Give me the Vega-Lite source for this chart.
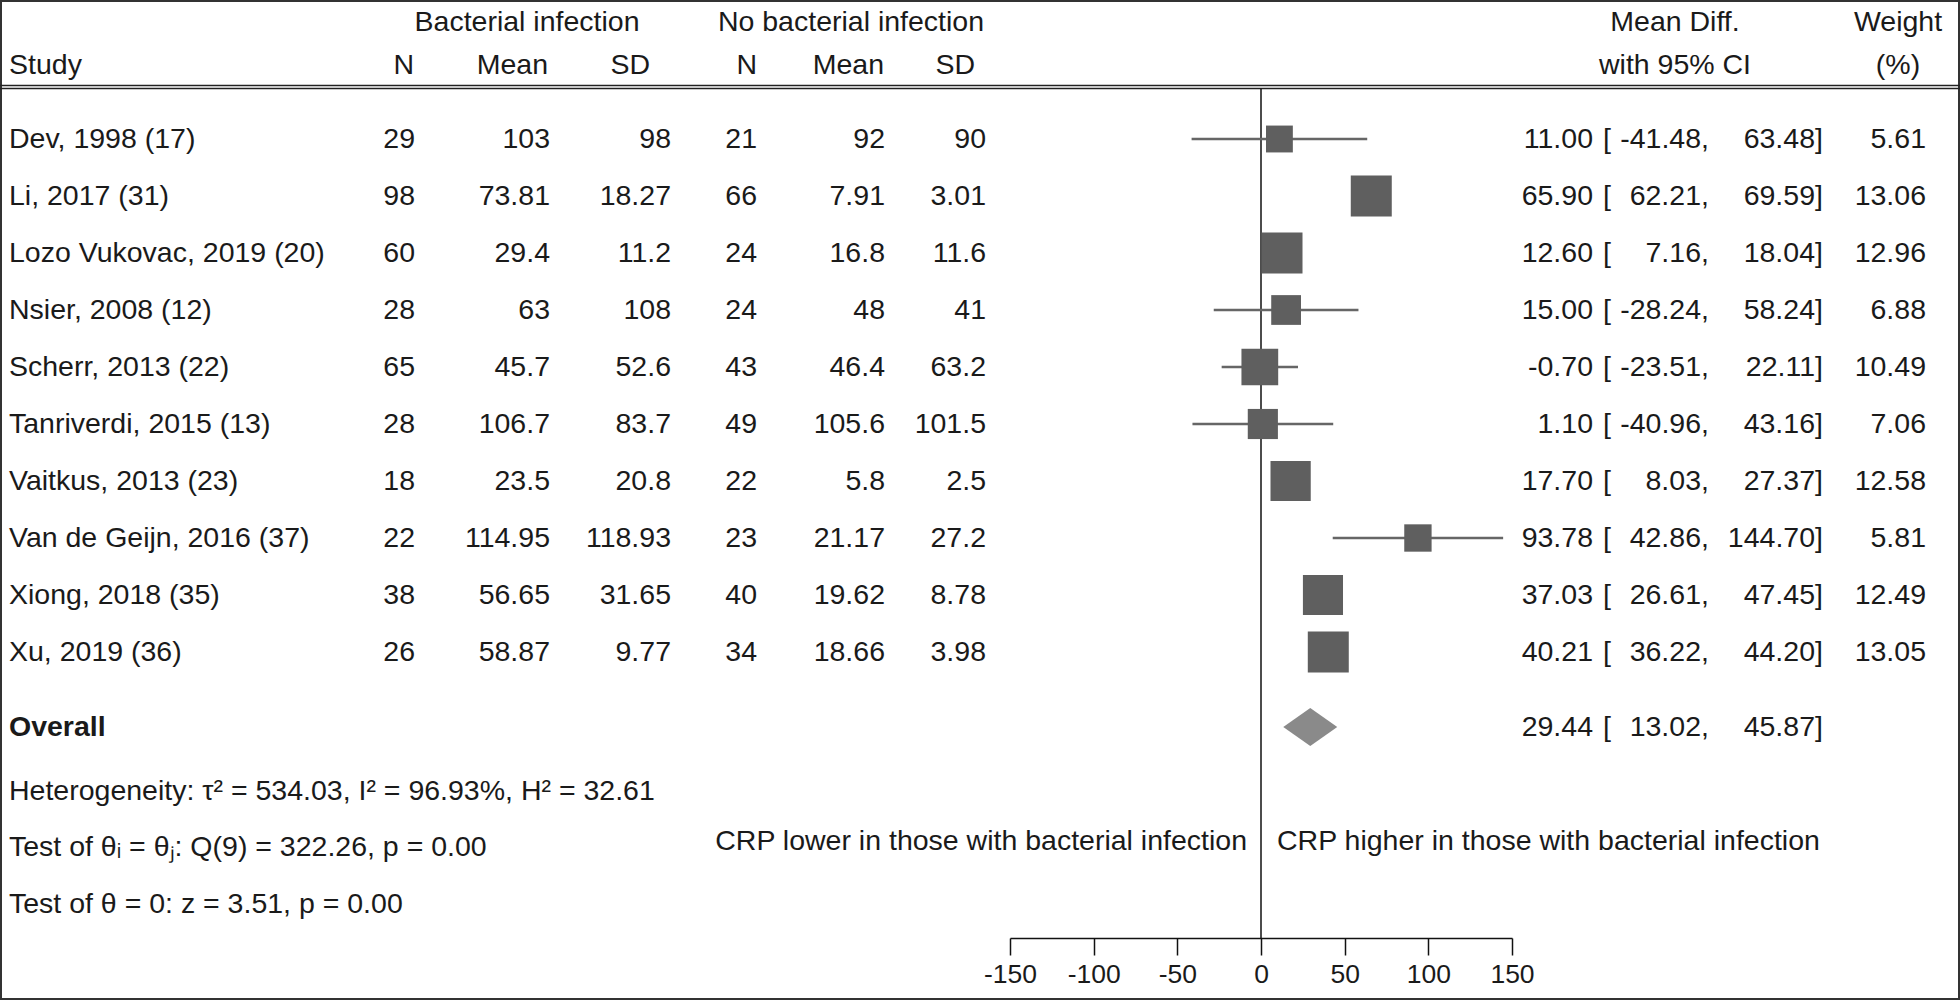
{
  "$schema": "https://vega.github.io/schema/vega-lite/v6.json",
  "width": 1960,
  "height": 1000,
  "autosize": {"type": "none"},
  "padding": 0,
  "background": "white",
  "config": {
    "view": {"stroke": "#333333", "strokeWidth": 4},
    "text": {"font": "Liberation Sans", "fontSize": 28.5, "color": "#1a1a1a", "baseline": "middle"},
    "axisY": {"disable": true},
    "locale": {"number": {"decimal": ".", "thousands": ",", "grouping": [3], "currency": ["$", ""], "minus": "-"}}
  },
  "datasets": {
    "studies": [
      {"study": "Dev, 1998 (17)", "n1": 29, "m1": 103, "sd1": 98, "n2": 21, "m2": 92, "sd2": 90, "md": 11.00, "lo": -41.48, "hi": 63.48, "w": 5.61},
      {"study": "Li, 2017 (31)", "n1": 98, "m1": 73.81, "sd1": 18.27, "n2": 66, "m2": 7.91, "sd2": 3.01, "md": 65.90, "lo": 62.21, "hi": 69.59, "w": 13.06},
      {"study": "Lozo Vukovac, 2019 (20)", "n1": 60, "m1": 29.4, "sd1": 11.2, "n2": 24, "m2": 16.8, "sd2": 11.6, "md": 12.60, "lo": 7.16, "hi": 18.04, "w": 12.96},
      {"study": "Nsier, 2008 (12)", "n1": 28, "m1": 63, "sd1": 108, "n2": 24, "m2": 48, "sd2": 41, "md": 15.00, "lo": -28.24, "hi": 58.24, "w": 6.88},
      {"study": "Scherr, 2013 (22)", "n1": 65, "m1": 45.7, "sd1": 52.6, "n2": 43, "m2": 46.4, "sd2": 63.2, "md": -0.70, "lo": -23.51, "hi": 22.11, "w": 10.49},
      {"study": "Tanriverdi, 2015 (13)", "n1": 28, "m1": 106.7, "sd1": 83.7, "n2": 49, "m2": 105.6, "sd2": 101.5, "md": 1.10, "lo": -40.96, "hi": 43.16, "w": 7.06},
      {"study": "Vaitkus, 2013 (23)", "n1": 18, "m1": 23.5, "sd1": 20.8, "n2": 22, "m2": 5.8, "sd2": 2.5, "md": 17.70, "lo": 8.03, "hi": 27.37, "w": 12.58},
      {"study": "Van de Geijn, 2016 (37)", "n1": 22, "m1": 114.95, "sd1": 118.93, "n2": 23, "m2": 21.17, "sd2": 27.2, "md": 93.78, "lo": 42.86, "hi": 144.70, "w": 5.81},
      {"study": "Xiong, 2018 (35)", "n1": 38, "m1": 56.65, "sd1": 31.65, "n2": 40, "m2": 19.62, "sd2": 8.78, "md": 37.03, "lo": 26.61, "hi": 47.45, "w": 12.49},
      {"study": "Xu, 2019 (36)", "n1": 26, "m1": 58.87, "sd1": 9.77, "n2": 34, "m2": 18.66, "sd2": 3.98, "md": 40.21, "lo": 36.22, "hi": 44.20, "w": 13.05}
    ],
    "overall": [
      {"label": "Overall", "es": 29.44, "lo": 13.02, "hi": 45.87}
    ],
    "one": [{}]
  },
  "layer": [
    {
      "data": {"name": "one"},
      "mark": {"type": "rule", "color": "#222222", "strokeWidth": 1.5},
      "encoding": {
        "x": {"value": 0}, "x2": {"value": 1960},
        "y": {"datum": 0.0614, "type": "quantitative", "scale": {"domain": [-1.4386, 16.1053], "reverse": true, "nice": false, "zero": false}, "axis": null}
      }
    },
    {
      "data": {"name": "one"},
      "mark": {"type": "rule", "color": "#222222", "strokeWidth": 1.5},
      "encoding": {
        "x": {"value": 0}, "x2": {"value": 1960},
        "y": {"datum": 0.114, "type": "quantitative", "axis": null}
      }
    },
    {
      "data": {"name": "one"},
      "mark": {"type": "rule", "color": "#111111", "strokeWidth": 1.5},
      "encoding": {
        "x": {"datum": 0, "type": "quantitative",
          "scale": {"domain": [-150, 150], "range": [1010, 1512], "nice": false, "zero": false},
          "axis": {"title": null, "values": [-150, -100, -50, 0, 50, 100, 150], "offset": -62, "grid": false, "domainColor": "#111111", "domainWidth": 1.5, "tickColor": "#111111", "tickWidth": 1.5, "tickSize": 17, "labelFont": "Liberation Sans", "labelFontSize": 26.5, "labelColor": "#1a1a1a", "labelPadding": 6, "labelFlush": false, "labelOverlap": false}},
        "y": {"datum": 0.114, "type": "quantitative", "axis": null},
        "y2": {"datum": 15.018}
      }
    },
    {
      "data": {"name": "studies"},
      "transform": [{"window": [{"op": "row_number", "as": "row"}]}],
      "layer": [
        {
          "mark": {"type": "rule", "color": "#666666", "strokeWidth": 2.5},
          "encoding": {
            "x": {"field": "lo", "type": "quantitative", "axis": {"title": null, "values": [-150, -100, -50, 0, 50, 100, 150], "offset": -62, "grid": false, "domainColor": "#111111", "domainWidth": 1.5, "tickColor": "#111111", "tickWidth": 1.5, "tickSize": 17, "labelFont": "Liberation Sans", "labelFontSize": 26.5, "labelColor": "#1a1a1a", "labelPadding": 6, "labelFlush": false, "labelOverlap": false}},
            "x2": {"field": "hi"},
            "y": {"field": "row", "type": "quantitative", "axis": null}
          }
        },
        {
          "mark": {"type": "square", "filled": true, "color": "#5f5f5f", "opacity": 1},
          "encoding": {
            "x": {"field": "md", "type": "quantitative", "axis": {"title": null, "values": [-150, -100, -50, 0, 50, 100, 150], "offset": -62, "grid": false, "domainColor": "#111111", "domainWidth": 1.5, "tickColor": "#111111", "tickWidth": 1.5, "tickSize": 17, "labelFont": "Liberation Sans", "labelFontSize": 26.5, "labelColor": "#1a1a1a", "labelPadding": 6, "labelFlush": false, "labelOverlap": false}},
            "y": {"field": "row", "type": "quantitative", "axis": null},
            "size": {"field": "w", "type": "quantitative", "scale": {"domain": [0, 13.06], "range": [0, 1681]}, "legend": null}
          }
        },
        {"mark": {"type": "text", "align": "left"}, "encoding": {"x": {"value": 9}, "y": {"field": "row", "type": "quantitative", "axis": null}, "text": {"field": "study", "type": "nominal"}}},
        {"mark": {"type": "text", "align": "right"}, "encoding": {"x": {"value": 415}, "y": {"field": "row", "type": "quantitative", "axis": null}, "text": {"field": "n1", "type": "nominal"}}},
        {"mark": {"type": "text", "align": "right"}, "encoding": {"x": {"value": 550}, "y": {"field": "row", "type": "quantitative", "axis": null}, "text": {"field": "m1", "type": "nominal"}}},
        {"mark": {"type": "text", "align": "right"}, "encoding": {"x": {"value": 671}, "y": {"field": "row", "type": "quantitative", "axis": null}, "text": {"field": "sd1", "type": "nominal"}}},
        {"mark": {"type": "text", "align": "right"}, "encoding": {"x": {"value": 757}, "y": {"field": "row", "type": "quantitative", "axis": null}, "text": {"field": "n2", "type": "nominal"}}},
        {"mark": {"type": "text", "align": "right"}, "encoding": {"x": {"value": 885}, "y": {"field": "row", "type": "quantitative", "axis": null}, "text": {"field": "m2", "type": "nominal"}}},
        {"mark": {"type": "text", "align": "right"}, "encoding": {"x": {"value": 986}, "y": {"field": "row", "type": "quantitative", "axis": null}, "text": {"field": "sd2", "type": "nominal"}}},
        {"mark": {"type": "text", "align": "right"}, "encoding": {"x": {"value": 1593}, "y": {"field": "row", "type": "quantitative", "axis": null}, "text": {"field": "md", "type": "quantitative", "format": ".2f"}}},
        {"mark": {"type": "text", "align": "left", "text": "["}, "encoding": {"x": {"value": 1603}, "y": {"field": "row", "type": "quantitative", "axis": null}}},
        {"mark": {"type": "text", "align": "right"}, "encoding": {"x": {"value": 1701}, "y": {"field": "row", "type": "quantitative", "axis": null}, "text": {"field": "lo", "type": "quantitative", "format": ".2f"}}},
        {"mark": {"type": "text", "align": "left", "text": ","}, "encoding": {"x": {"value": 1701}, "y": {"field": "row", "type": "quantitative", "axis": null}}},
        {"mark": {"type": "text", "align": "right"}, "encoding": {"x": {"value": 1815}, "y": {"field": "row", "type": "quantitative", "axis": null}, "text": {"field": "hi", "type": "quantitative", "format": ".2f"}}},
        {"mark": {"type": "text", "align": "left", "text": "]"}, "encoding": {"x": {"value": 1815}, "y": {"field": "row", "type": "quantitative", "axis": null}}},
        {"mark": {"type": "text", "align": "right"}, "encoding": {"x": {"value": 1926}, "y": {"field": "row", "type": "quantitative", "axis": null}, "text": {"field": "w", "type": "quantitative", "format": ".2f"}}}
      ]
    },
    {
      "data": {"name": "overall"},
      "layer": [
        {
          "mark": {"type": "point", "filled": true, "color": "#8a8a8a", "opacity": 1, "shape": "M-1,0L0,-0.7L1,0L0,0.7Z", "size": 2916},
          "encoding": {
            "x": {"field": "es", "type": "quantitative", "axis": {"title": null, "values": [-150, -100, -50, 0, 50, 100, 150], "offset": -62, "grid": false, "domainColor": "#111111", "domainWidth": 1.5, "tickColor": "#111111", "tickWidth": 1.5, "tickSize": 17, "labelFont": "Liberation Sans", "labelFontSize": 26.5, "labelColor": "#1a1a1a", "labelPadding": 6, "labelFlush": false, "labelOverlap": false}},
            "y": {"datum": 11.316, "type": "quantitative", "axis": null}
          }
        },
        {"mark": {"type": "text", "align": "left", "fontWeight": "bold"}, "encoding": {"x": {"value": 9}, "y": {"datum": 11.316, "type": "quantitative", "axis": null}, "text": {"field": "label", "type": "nominal"}}},
        {"mark": {"type": "text", "align": "right"}, "encoding": {"x": {"value": 1593}, "y": {"datum": 11.316, "type": "quantitative", "axis": null}, "text": {"field": "es", "type": "quantitative", "format": ".2f"}}},
        {"mark": {"type": "text", "align": "left", "text": "["}, "encoding": {"x": {"value": 1603}, "y": {"datum": 11.316, "type": "quantitative", "axis": null}}},
        {"mark": {"type": "text", "align": "right"}, "encoding": {"x": {"value": 1701}, "y": {"datum": 11.316, "type": "quantitative", "axis": null}, "text": {"field": "lo", "type": "quantitative", "format": ".2f"}}},
        {"mark": {"type": "text", "align": "left", "text": ","}, "encoding": {"x": {"value": 1701}, "y": {"datum": 11.316, "type": "quantitative", "axis": null}}},
        {"mark": {"type": "text", "align": "right"}, "encoding": {"x": {"value": 1815}, "y": {"datum": 11.316, "type": "quantitative", "axis": null}, "text": {"field": "hi", "type": "quantitative", "format": ".2f"}}},
        {"mark": {"type": "text", "align": "left", "text": "]"}, "encoding": {"x": {"value": 1815}, "y": {"datum": 11.316, "type": "quantitative", "axis": null}}}
      ]
    },
    {
      "data": {"name": "one"},
      "layer": [
        {"mark": {"type": "text", "align": "center", "text": "Bacterial infection"}, "encoding": {"x": {"value": 527}, "y": {"datum": -1.044, "type": "quantitative", "axis": null}}},
        {"mark": {"type": "text", "align": "center", "text": "No bacterial infection"}, "encoding": {"x": {"value": 851}, "y": {"datum": -1.044, "type": "quantitative", "axis": null}}},
        {"mark": {"type": "text", "align": "center", "text": "Mean Diff."}, "encoding": {"x": {"value": 1675}, "y": {"datum": -1.044, "type": "quantitative", "axis": null}}},
        {"mark": {"type": "text", "align": "center", "text": "Weight"}, "encoding": {"x": {"value": 1898}, "y": {"datum": -1.044, "type": "quantitative", "axis": null}}},
        {"mark": {"type": "text", "align": "left", "text": "Study"}, "encoding": {"x": {"value": 9}, "y": {"datum": -0.307, "type": "quantitative", "axis": null}}},
        {"mark": {"type": "text", "align": "right", "text": "N"}, "encoding": {"x": {"value": 414}, "y": {"datum": -0.307, "type": "quantitative", "axis": null}}},
        {"mark": {"type": "text", "align": "right", "text": "Mean"}, "encoding": {"x": {"value": 548}, "y": {"datum": -0.307, "type": "quantitative", "axis": null}}},
        {"mark": {"type": "text", "align": "right", "text": "SD"}, "encoding": {"x": {"value": 650}, "y": {"datum": -0.307, "type": "quantitative", "axis": null}}},
        {"mark": {"type": "text", "align": "right", "text": "N"}, "encoding": {"x": {"value": 757}, "y": {"datum": -0.307, "type": "quantitative", "axis": null}}},
        {"mark": {"type": "text", "align": "right", "text": "Mean"}, "encoding": {"x": {"value": 884}, "y": {"datum": -0.307, "type": "quantitative", "axis": null}}},
        {"mark": {"type": "text", "align": "right", "text": "SD"}, "encoding": {"x": {"value": 975}, "y": {"datum": -0.307, "type": "quantitative", "axis": null}}},
        {"mark": {"type": "text", "align": "center", "text": "with 95% CI"}, "encoding": {"x": {"value": 1675}, "y": {"datum": -0.307, "type": "quantitative", "axis": null}}},
        {"mark": {"type": "text", "align": "center", "text": "(%)"}, "encoding": {"x": {"value": 1898}, "y": {"datum": -0.307, "type": "quantitative", "axis": null}}},
        {"mark": {"type": "text", "align": "left", "text": "Heterogeneity: τ² = 534.03, I² = 96.93%, H² = 32.61"}, "encoding": {"x": {"value": 9}, "y": {"datum": 12.439, "type": "quantitative", "axis": null}}},
        {"mark": {"type": "text", "align": "left", "text": "Test of θᵢ = θⱼ: Q(9) = 322.26, p = 0.00"}, "encoding": {"x": {"value": 9}, "y": {"datum": 13.421, "type": "quantitative", "axis": null}}},
        {"mark": {"type": "text", "align": "left", "text": "Test of θ = 0: z = 3.51, p = 0.00"}, "encoding": {"x": {"value": 9}, "y": {"datum": 14.421, "type": "quantitative", "axis": null}}},
        {"mark": {"type": "text", "align": "right", "text": "CRP lower in those with bacterial infection"}, "encoding": {"x": {"value": 1247}, "y": {"datum": 13.316, "type": "quantitative", "axis": null}}},
        {"mark": {"type": "text", "align": "left", "text": "CRP higher in those with bacterial infection"}, "encoding": {"x": {"value": 1277}, "y": {"datum": 13.316, "type": "quantitative", "axis": null}}}
      ]
    }
  ]
}
